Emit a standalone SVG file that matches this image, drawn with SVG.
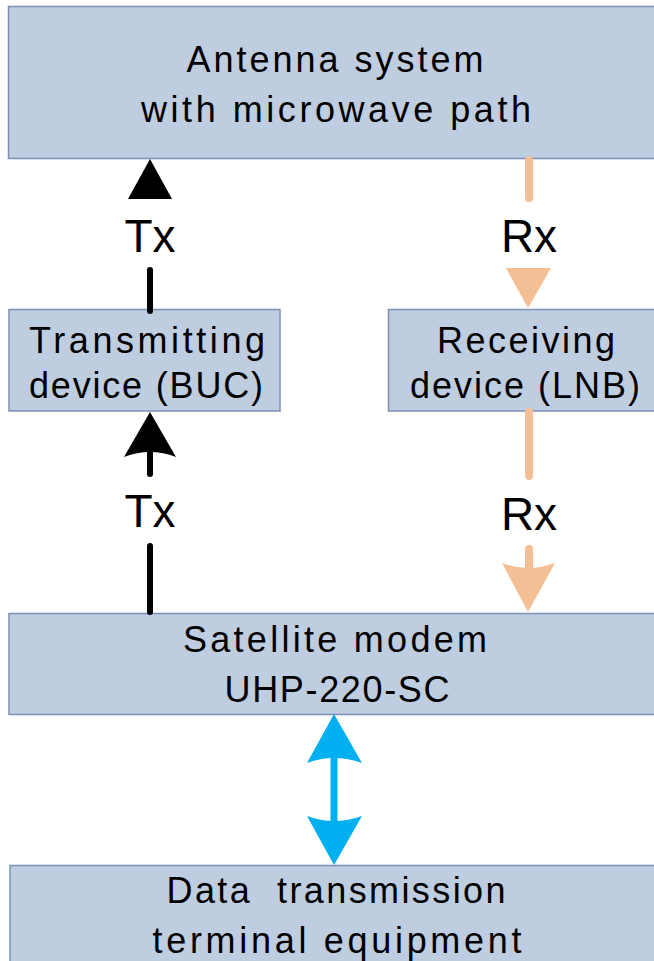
<svg xmlns="http://www.w3.org/2000/svg" width="654" height="961" viewBox="0 0 654 961">
<style>
.box{fill:#bfcde1;stroke:#7b90b4;stroke-width:1.5}
.t{font-family:"Liberation Sans",Arial,sans-serif;font-size:36px;fill:#000;text-anchor:middle}
.lbl{font-family:"Liberation Sans",Arial,sans-serif;font-size:46px;fill:#000;text-anchor:middle}
.tx{stroke:#000;stroke-width:6;stroke-linecap:round;fill:none}
.rx{stroke:#f4bf95;stroke-width:8;stroke-linecap:round;fill:none}
.dt{stroke:#00b0f0;stroke-width:7;fill:none}
</style>
<rect width="654" height="961" fill="#fff"/>
<g id="antenna">
<rect class="box" x="8.5" y="6.5" width="660" height="152"/>
<text class="t" x="335" y="72" textLength="297" lengthAdjust="spacing">Antenna system</text>
<text class="t" x="336" y="122" textLength="390" lengthAdjust="spacing">with microwave path</text>
</g>
<g id="buc">
<rect class="box" x="9" y="309.5" width="271" height="101.5"/>
<text class="t" x="147" y="353" textLength="236" lengthAdjust="spacing">Transmitting</text>
<text class="t" x="146" y="398" textLength="234" lengthAdjust="spacing">device (BUC)</text>
</g>
<g id="lnb">
<rect class="box" x="388.5" y="309.5" width="280" height="101.5"/>
<text class="t" x="526" y="353" textLength="178" lengthAdjust="spacing">Receiving</text>
<text class="t" x="525" y="398" textLength="230" lengthAdjust="spacing">device (LNB)</text>
</g>
<g id="modem">
<rect class="box" x="9" y="613.5" width="660" height="101"/>
<text class="t" x="335" y="652" textLength="304" lengthAdjust="spacing">Satellite modem</text>
<text class="t" x="337" y="702" textLength="225" lengthAdjust="spacing">UHP-220-SC</text>
</g>
<g id="terminal">
<rect class="box" x="10" y="865.5" width="660" height="110"/>
<text class="t" x="336" y="903" textLength="339" lengthAdjust="spacing" xml:space="preserve" style="white-space:pre">Data  transmission</text>
<text class="t" x="337" y="953" textLength="369" lengthAdjust="spacing">terminal equipment</text>
</g>
<g id="connectors">
<line class="tx" x1="150" y1="270" x2="150" y2="311"/>
<polygon points="150,159 172,199 128,199" fill="#000"/>
<text class="lbl" x="150" y="252">Tx</text>
<line class="tx" x1="150" y1="546" x2="150" y2="612"/>
<line class="tx" x1="150" y1="450" x2="150" y2="474"/>
<path d="M150,412 L176,457 Q150,447 124,457 Z" fill="#000"/>
<text class="lbl" x="150" y="527">Tx</text>
<line class="rx" x1="529" y1="160" x2="529" y2="198"/>
<polygon points="506,268 551,268 528,308" fill="#f4bf95"/>
<text class="lbl" x="529" y="252">Rx</text>
<line class="rx" x1="529" y1="412" x2="529" y2="476"/>
<line class="rx" x1="529" y1="549" x2="529" y2="570"/>
<path d="M502,563 Q528,573 555,563 L528,612 Z" fill="#f4bf95"/>
<text class="lbl" x="529" y="530">Rx</text>
<line class="dt" x1="334" y1="755" x2="334" y2="824"/>
<path d="M334,714 L362,763 Q334,753 307,763 Z" fill="#00b0f0"/>
<path d="M334,865 L362,816 Q334,826 307,816 Z" fill="#00b0f0"/>
</g>
</svg>
